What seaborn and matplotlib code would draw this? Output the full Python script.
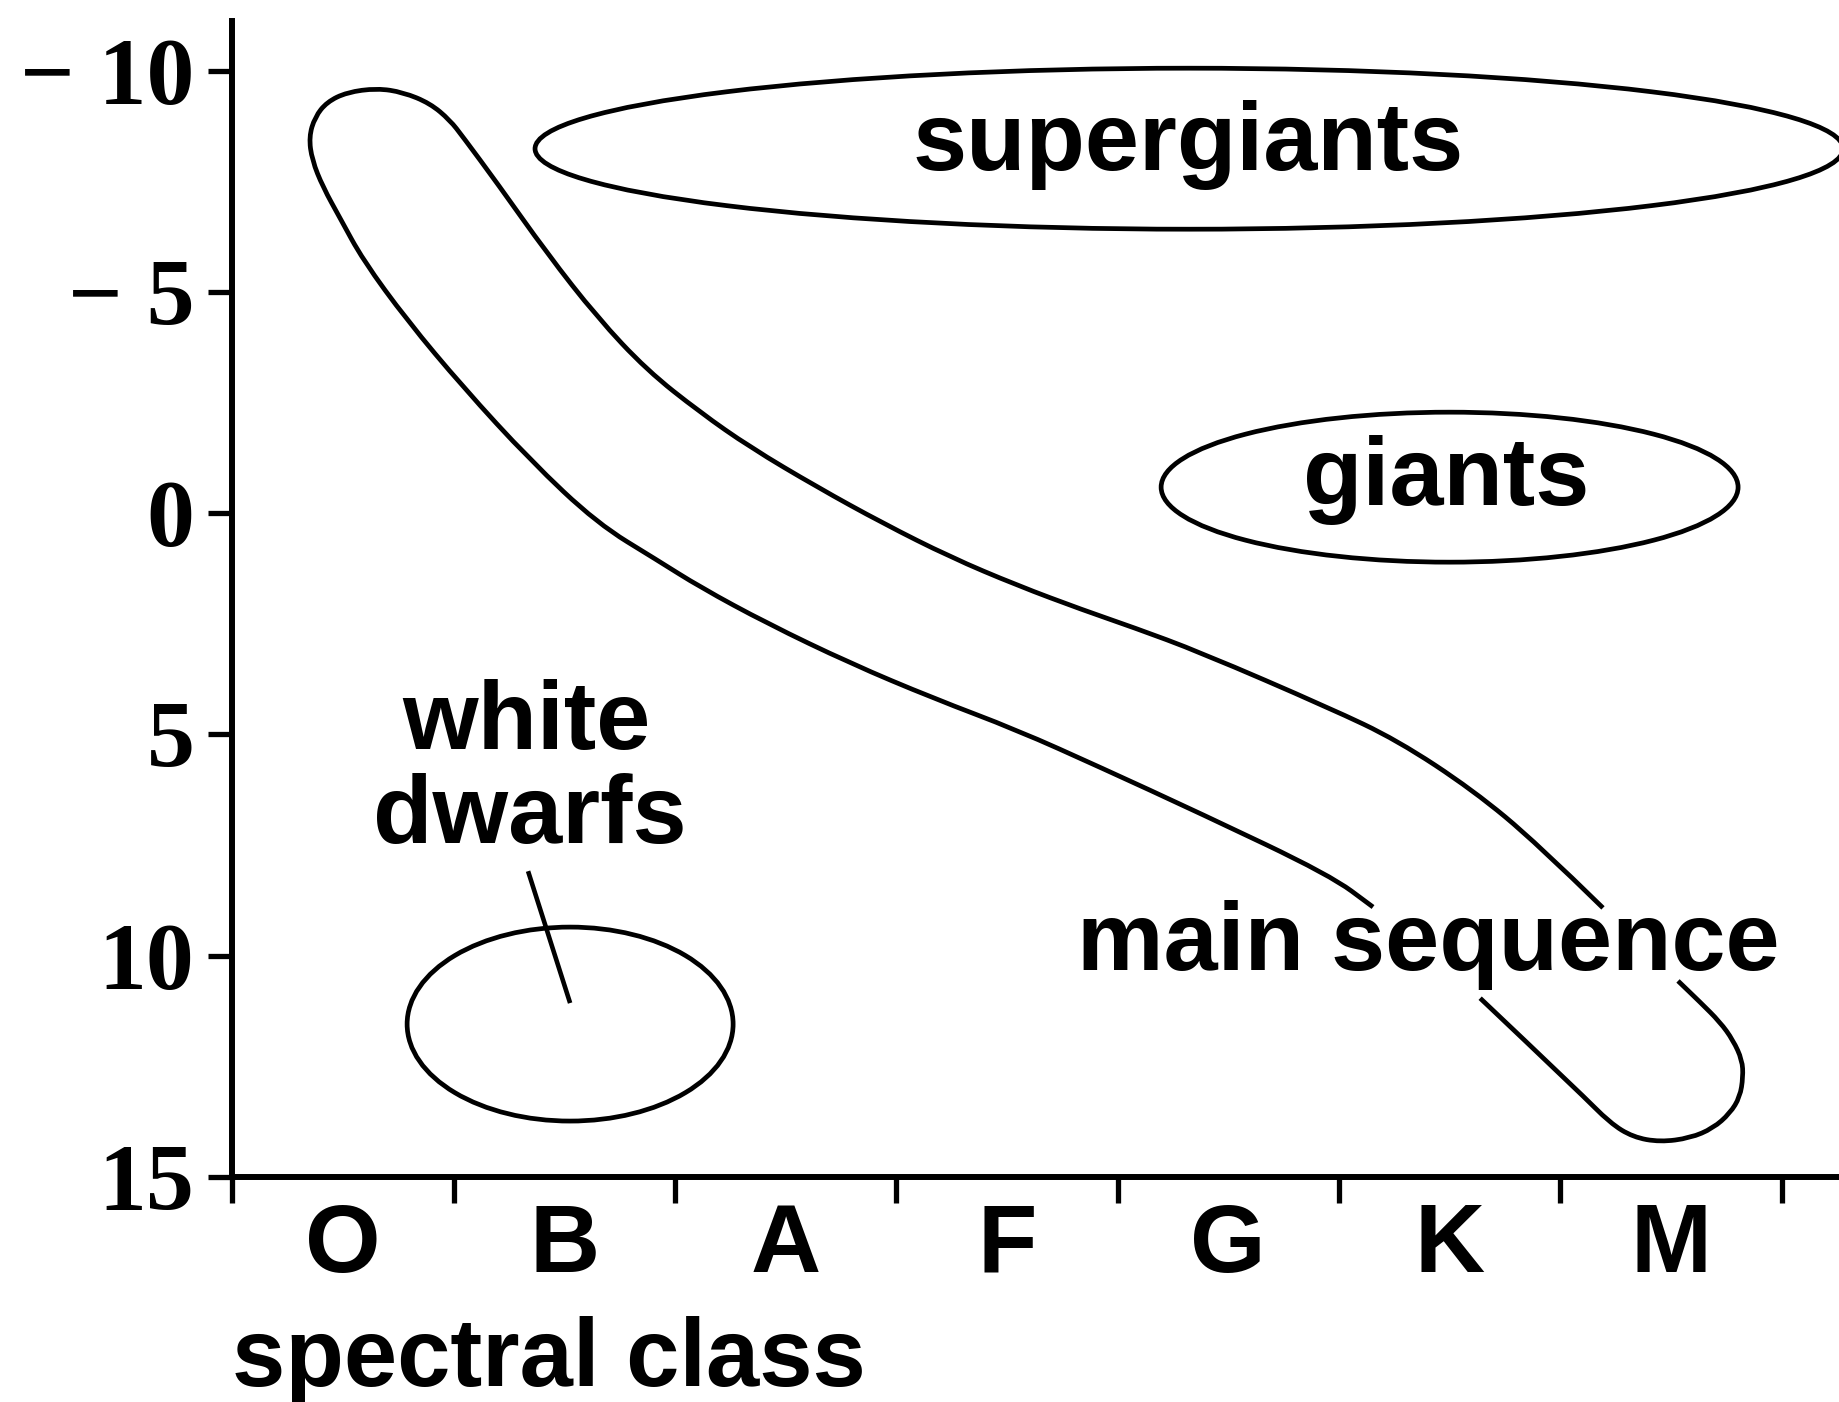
import matplotlib
matplotlib.use("Agg")
import matplotlib.pyplot as plt
from matplotlib.patches import Ellipse, PathPatch
from matplotlib.path import Path
import seaborn as sns

# spectral classes along the bottom, one unit per class
spectral_classes = ['O', 'B', 'A', 'F', 'G', 'K', 'M']
mag_ticks = [-10, -5, 0, 5, 10, 15]
mag_labels = ['\u2212 10', '\u2212 5', '0', '5', '10', '15']

# main sequence outline (class position, absolute magnitude)
# long piece: upper edge -> top-left cap -> lower edge, stops at the label
ms_body_class = [6.193, 5.895, 5.606, 5.263, 4.960, 4.372, 4.070, 3.844, 3.545, 3.243,
                 2.940, 2.642, 2.339, 2.113, 1.873, 1.648, 1.422, 1.196, 1.042, 0.983,
                 0.893, 0.771, 0.653, 0.518, 0.427, 0.373, 0.346, 0.360, 0.409, 0.486,
                 0.590, 0.789, 1.042, 1.345, 1.648, 1.919, 2.113, 2.416, 2.791, 3.166,
                 3.545, 3.920, 4.372, 4.960, 5.154]
ms_body_mag = [8.92, 7.46, 6.26, 5.13, 4.41, 3.14, 2.58, 2.19, 1.63, 0.99,
               0.23, -0.59, -1.49, -2.28, -3.23, -4.43, -5.87, -7.46, -8.50, -8.88,
               -9.26, -9.51, -9.60, -9.51, -9.29, -8.95, -8.50, -7.98, -7.37, -6.67,
               -5.72, -4.36, -2.85, -1.20, 0.23, 1.06, 1.67, 2.49, 3.39, 4.18,
               4.90, 5.74, 6.78, 8.18, 8.90]
# short piece below the label: the red-dwarf end of the band
ms_tail_class = [5.638, 6.090, 6.225, 6.329, 6.451, 6.587, 6.690, 6.767, 6.812, 6.826,
                 6.822, 6.781, 6.722, 6.632, 6.532]
ms_tail_mag = [10.96, 13.10, 13.78, 14.10, 14.21, 14.12, 13.90, 13.56, 13.19, 12.74,
               12.36, 11.91, 11.50, 11.05, 10.57]

# other regions as ellipses: centre, width in classes, height in magnitudes
region_names = ['supergiants', 'giants', 'white dwarfs']
region_class = [4.323, 5.500, 1.526]
region_mag = [-8.235, -0.587, 11.545]
region_width = [5.911, 2.607, 1.473]
region_height = [3.638, 3.389, 4.383]

# pointer from the white dwarf label into its ellipse
pointer_class = [1.336, 1.526]
pointer_mag = [8.09, 11.07]


def smooth_outline(xs, ys):
    # quadratic bezier through segment midpoints, traced points as controls
    pts = list(zip(xs, ys))
    verts, codes = [pts[0]], [Path.MOVETO]
    for i in range(1, len(pts) - 1):
        mid = ((pts[i][0] + pts[i + 1][0]) / 2, (pts[i][1] + pts[i + 1][1]) / 2)
        verts += [pts[i], mid]
        codes += [Path.CURVE3, Path.CURVE3]
    verts.append(pts[-1])
    codes.append(Path.LINETO)
    return Path(verts, codes)


sns.set_style('ticks')
sans = ['Liberation Sans', 'DejaVu Sans']
serif = ['Liberation Serif', 'DejaVu Serif']
plt.rcParams['font.family'] = sans
plt.rcParams['text.color'] = 'black'
plt.rcParams['axes.labelcolor'] = 'black'
plt.rcParams['xtick.color'] = 'black'
plt.rcParams['ytick.color'] = 'black'

fig = plt.figure(figsize=(18.4, 14.02), dpi=100)
ax = fig.add_axes([0.1263, 0.1605, 0.8737, 0.8245])

for cls, mag in [(ms_body_class, ms_body_mag), (ms_tail_class, ms_tail_mag)]:
    ax.add_patch(PathPatch(smooth_outline(cls, mag), fill=False, ec='black', lw=3.4,
                           capstyle='butt', joinstyle='round'))

sns.lineplot(x=pointer_class, y=pointer_mag, sort=False, estimator=None,
             color='black', lw=3.3, solid_capstyle='butt', ax=ax)

for cx, cy, w, h in zip(region_class, region_mag, region_width, region_height):
    ax.add_patch(Ellipse((cx, cy), w, h, fill=False, ec='black', lw=3.4))

label_kw = dict(family=sans, fontsize=70, fontweight='bold', ha='center',
                va='baseline', color='black')
ax.text(4.318, -7.75, 'supergiants', **label_kw)
ax.text(5.484, -0.18, 'giants', **label_kw)
ax.text(1.331, 5.33, 'white', **label_kw)
ax.text(1.345, 7.46, 'dwarfs', **label_kw)
ax.text(5.403, 10.33, 'main sequence', **label_kw)

ax.set_xlim(0, 7.264)
ax.set_ylim(15, -11.12)

# tick marks sit between classes, letters in the middle of each class
ax.set_xticks(range(len(spectral_classes) + 1))
ax.set_xticklabels([])
ax.set_xticks([i + 0.5 for i in range(len(spectral_classes))], minor=True)
ax.set_xticklabels(spectral_classes, minor=True, family=sans, fontsize=70, fontweight='bold')
ax.tick_params(axis='x', which='major', direction='out', length=18.7, width=3.8)
ax.tick_params(axis='x', which='minor', length=0, pad=18)

ax.set_yticks(mag_ticks)
ax.set_yticklabels(mag_labels, family=serif, fontsize=69, fontweight='bold')
ax.tick_params(axis='y', direction='out', length=17.3, width=3.8, pad=10)

ax.set_xlabel('spectral class', loc='left', labelpad=17, family=sans,
              fontsize=69, fontweight='bold')
ax.set_ylabel('')

for side in ['top', 'right']:
    ax.spines[side].set_visible(False)
for side in ['left', 'bottom']:
    ax.spines[side].set_linewidth(4.3)
    ax.spines[side].set_color('black')

fig.savefig('out.png', dpi=100)
